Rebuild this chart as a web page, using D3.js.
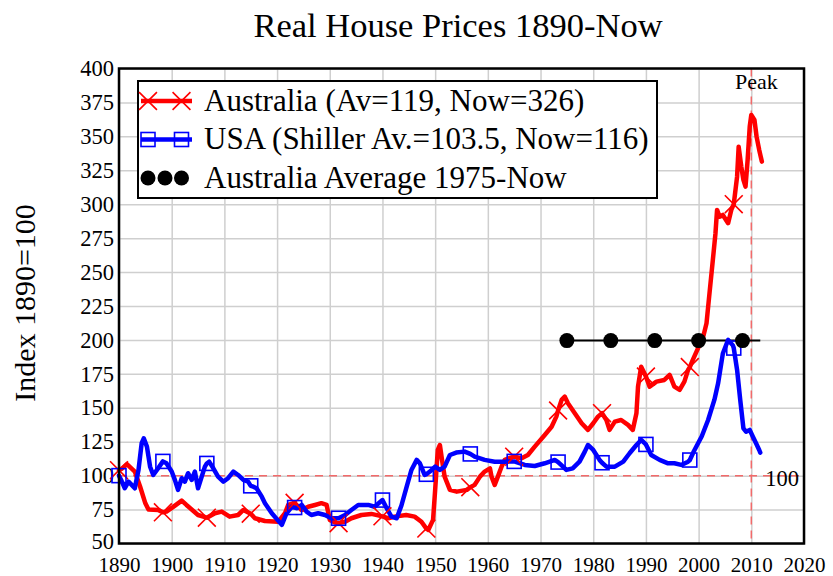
<!DOCTYPE html>
<html>
<head>
<meta charset="utf-8">
<script src="https://cdn.jsdelivr.net/npm/d3@7"></script>
<style>
  body { margin: 0; background: #fff; }
  text { font-family: "Liberation Serif", "Times New Roman", serif; }
</style>
</head>
<body>
<div id="chart"></div>
<script>
// Tick labels
const xTicks = [1890, 1900, 1910, 1920, 1930, 1940, 1950, 1960, 1970, 1980, 1990, 2000, 2010, 2020];
const yTicks = [50, 75, 100, 125, 150, 175, 200, 225, 250, 275, 300, 325, 350, 375, 400];

// Years where the series carry markers (every 100 months)
const markerYears = [1890, 1898.33, 1906.67, 1915, 1923.33, 1931.67, 1940, 1948.33, 1956.67, 1965, 1973.33, 1981.67, 1990, 1998.33, 2006.67];
const avgMarkerYears = [1975, 1983.33, 1991.67, 2000, 2008.33];

// Australia real house price index (1890=100)
const australia = [
  [1890, 104], [1890.5, 105], [1891.5, 108.5], [1893, 103], [1894, 92], [1895, 79.6], [1895.6, 75],
  [1897.5, 74.6], [1898.33, 73], [1899, 73.5], [1900.3, 77], [1901.9, 81.6], [1902.8, 78.4], [1905, 71],
  [1906.67, 69], [1908.2, 72.3], [1909.5, 73.5], [1911, 69.8], [1912.6, 71], [1913.6, 74.7], [1915, 72],
  [1915.8, 68.6], [1917.7, 66.6], [1920.2, 66], [1921.5, 72.3], [1922.1, 78.4], [1923.33, 80], [1924.6, 74.7],
  [1925.9, 77.1], [1927.2, 78.4], [1928.4, 79.7], [1929.4, 78.4], [1930, 67.4], [1931, 65.4], [1931.67, 65],
  [1932.9, 66], [1934.1, 68.6], [1936, 71], [1937.9, 71.8], [1940, 70], [1941.1, 68.6], [1942.3, 69.8],
  [1944.5, 71], [1946.1, 69.8], [1947.4, 66], [1948.33, 61], [1948.7, 60], [1949.6, 67.4], [1950, 89.5],
  [1950.5, 119], [1950.9, 122.6], [1951.3, 111.6], [1951.8, 99.3], [1952.8, 89.5], [1954.1, 88.2], [1956, 89.5],
  [1956.67, 91.5], [1957.5, 93.2], [1958.5, 99.3], [1959.4, 103], [1960.4, 105.4], [1960.7, 99.3], [1961.3, 93.2],
  [1961.9, 99.3], [1962.6, 106.6], [1963.2, 111.6], [1964.5, 113.5], [1965, 114], [1966.4, 112.8], [1967.6, 115.2],
  [1968.9, 121.4], [1970.8, 130], [1972.1, 136], [1973, 143.5], [1973.33, 148], [1974, 155.8], [1974.6, 158.2],
  [1975.2, 153.3], [1976.5, 146], [1977.8, 138.6], [1979, 133.7], [1980, 138.6], [1980.9, 143.5], [1981.67, 146],
  [1982.5, 141], [1983.1, 133.7], [1984.1, 139.8], [1985.3, 141], [1986.6, 137.4], [1987.5, 133.7], [1988.2, 146],
  [1988.5, 165.6], [1989.1, 180.3], [1990, 173], [1990.7, 165.6], [1992, 169.3], [1993.5, 170.5], [1994.5, 174.2],
  [1995.4, 165.6], [1996.4, 163.2], [1997.3, 169.3], [1998, 177.9], [1998.33, 180], [1998.9, 185.3], [1999.9, 194],
  [2000.8, 201.2], [2001.5, 212.3], [2002, 231.9], [2002.7, 258.9], [2003.2, 278.6], [2003.5, 295.8], [2004, 290.8],
  [2004.6, 292.1], [2005.6, 286], [2006.2, 295.8], [2006.67, 300], [2007.3, 320.3], [2007.6, 342.4], [2008.1, 327.7],
  [2008.5, 317.9], [2008.9, 313], [2009.3, 332.6], [2009.7, 357.2], [2010, 365.8], [2010.6, 362.1], [2011, 349.8],
  [2011.5, 340], [2012, 331.4]
];

// USA (Shiller) real house price index (1890=100)
const usa = [
  [1890, 100], [1890.5, 96], [1891.1, 90.7], [1891.8, 95.6], [1892.4, 93.2], [1893, 90.7], [1893.7, 104.2],
  [1894.3, 123.9], [1894.7, 127.5], [1895.3, 121.4], [1895.9, 106.6], [1896.5, 100.5], [1897.2, 104.2],
  [1898.33, 110.5], [1899, 109.1], [1900, 103], [1900.6, 96.9], [1901.2, 89.5], [1901.9, 98.1], [1902.5, 95.6],
  [1903.1, 101.8], [1903.8, 96.9], [1904.4, 103], [1905, 90.7], [1905.7, 99.3], [1906.3, 106.6], [1906.67, 109],
  [1907.1, 110.3], [1907.9, 105.4], [1908.8, 99.3], [1909.8, 95.6], [1910.7, 98.1], [1911.7, 103], [1912.6, 100.5],
  [1913.6, 96.9], [1914.5, 95.6], [1915, 92.5], [1915.5, 91.9], [1916.1, 90.7], [1917.1, 84.5], [1917.7, 79.7],
  [1919, 72.3], [1920.9, 63.7], [1921.8, 72.3], [1922.8, 77.1], [1923.33, 76.5], [1923.7, 76], [1924.7, 78.4],
  [1925.6, 73.5], [1926.5, 71], [1927.8, 72.3], [1929.1, 71], [1930.3, 68.6], [1931.67, 68.6], [1932.9, 71],
  [1934.1, 74.7], [1935.4, 78.4], [1937.3, 78.4], [1938.5, 77.1], [1940, 82], [1940.8, 76], [1941.7, 69.8],
  [1942.7, 68.6], [1943.6, 78], [1944.6, 91.9], [1945.5, 104.2], [1946.5, 111.6], [1947.1, 109.1], [1948, 100.5],
  [1948.33, 101], [1949, 103], [1950, 106.6], [1950.9, 104.2], [1951.8, 106.6], [1952.8, 115.2], [1954, 117],
  [1955.6, 117.7], [1956.67, 116], [1957.5, 114], [1959.4, 111.6], [1961.3, 110.3], [1963.2, 110.3], [1965, 110.5],
  [1967, 107.9], [1968.9, 107.1], [1970.8, 109.1], [1972.7, 111.6], [1973.33, 110], [1973.9, 107.9], [1974.9, 104.2],
  [1976.1, 105.4], [1977.4, 110.3], [1978.4, 117.7], [1979, 122.6], [1980, 118.9], [1981.2, 111.6], [1981.67, 109.5],
  [1982.5, 106.6], [1984.1, 106.6], [1985.7, 110.3], [1986.9, 116.5], [1988.2, 122.6], [1989.1, 126.3], [1990, 123],
  [1991, 115.2], [1992.6, 111.6], [1994.2, 109.1], [1995.4, 109.1], [1996.7, 107.9], [1998, 110.3], [1998.33, 111.5],
  [1999.1, 118], [2000.6, 129], [2001.8, 141], [2003, 156], [2003.7, 168], [2004.6, 190], [2005.6, 200],
  [2006.5, 196], [2006.67, 194], [2007.3, 178], [2007.9, 155.8], [2008.5, 134.9], [2009, 132.4], [2009.7, 133.7],
  [2010.3, 128.7], [2010.9, 123.9], [2011.5, 118.9], [2011.7, 117]
];

// Australia average 1975-Now
const avgLine = [[1975, 199.5], [1983.33, 199.5], [1991.67, 199.5], [2000, 199.5], [2008.33, 199.5], [2011.7, 199.5]];

const peakYear = 2010;
const baseValue = 100;

const legendLabels = [
  "Australia (Av=119, Now=326)",
  "USA (Shiller Av.=103.5, Now=116)",
  "Australia Average 1975-Now"
];

const W = 833, H = 576;
const margin = { top: 68.5, right: 29, bottom: 32.5, left: 119 };
const width = W - margin.left - margin.right;
const height = H - margin.top - margin.bottom;

const svg = d3.select("#chart").append("svg")
  .attr("width", W)
  .attr("height", H);

const g = svg.append("g")
  .attr("transform", `translate(${margin.left},${margin.top})`);

const x = d3.scaleLinear().domain([1890, 2020]).range([0, width]);
const y = d3.scaleLinear().domain([50, 400]).range([height, 0]);

// grid
g.append("g")
  .attr("class", "grid")
  .call(d3.axisBottom(x).tickValues(xTicks).tickSize(height).tickFormat(""))
  .call(s => s.select(".domain").remove())
  .selectAll("line").attr("stroke", "#cfcfcf").attr("stroke-width", 1.5);

g.append("g")
  .attr("class", "grid")
  .call(d3.axisLeft(y).tickValues(yTicks).tickSize(-width).tickFormat(""))
  .call(s => s.select(".domain").remove())
  .selectAll("line").attr("stroke", "#cfcfcf").attr("stroke-width", 1.5);

// axis labels
const xAxis = g.append("g")
  .attr("transform", `translate(0,${height})`)
  .call(d3.axisBottom(x).tickValues(xTicks).tickSize(0).tickPadding(13.5).tickFormat(d3.format("d")));
xAxis.select(".domain").remove();
xAxis.selectAll("text").attr("font-size", 21).attr("fill", "#000")
  .style("font-family", "'Liberation Serif', serif");

const yAxis = g.append("g")
  .call(d3.axisLeft(y).tickValues(yTicks).tickSize(0).tickPadding(5).tickFormat(d3.format("d")));
yAxis.select(".domain").remove();
yAxis.selectAll("text").attr("font-size", 22.5).attr("fill", "#000")
  .style("font-family", "'Liberation Serif', serif");
// nudge the bottom label up so it clears the 1890 label
yAxis.selectAll(".tick").filter(d => d === 50).select("text").attr("y", -2.5);

// reference dashed lines
g.append("line")
  .attr("x1", x(1890)).attr("x2", x(2020))
  .attr("y1", y(baseValue)).attr("y2", y(baseValue))
  .attr("stroke", "#f26a6a").attr("stroke-width", 1.5).attr("stroke-dasharray", "8,6");

g.append("line")
  .attr("x1", x(peakYear)).attr("x2", x(peakYear))
  .attr("y1", 0).attr("y2", height)
  .attr("stroke", "#f26a6a").attr("stroke-width", 1.5).attr("stroke-dasharray", "8,6");

const line = d3.line().x(d => x(d[0])).y(d => y(d[1]));
const isMarker = d => markerYears.includes(d[0]);

// Australia average
g.append("path")
  .datum(avgLine)
  .attr("fill", "none").attr("stroke", "#000").attr("stroke-width", 2)
  .attr("d", line);

// Australia
g.append("path")
  .datum(australia)
  .attr("fill", "none").attr("stroke", "#ff0000").attr("stroke-width", 4.5)
  .attr("stroke-linejoin", "round").attr("stroke-linecap", "round")
  .attr("d", line);

// USA
g.append("path")
  .datum(usa)
  .attr("fill", "none").attr("stroke", "#0000ff").attr("stroke-width", 4.5)
  .attr("stroke-linejoin", "round").attr("stroke-linecap", "round")
  .attr("d", line);

// markers
const cross = d3.symbol().type(d3.symbolX).size(210);

g.append("g").selectAll("path")
  .data(australia.filter(isMarker))
  .join("path")
  .attr("transform", d => `translate(${x(d[0])},${y(d[1])})`)
  .attr("d", cross)
  .attr("fill", "none").attr("stroke", "#ff0000").attr("stroke-width", 1.6);

g.append("g").selectAll("rect")
  .data(usa.filter(isMarker))
  .join("rect")
  .attr("x", d => x(d[0]) - 7).attr("y", d => y(d[1]) - 7)
  .attr("width", 14).attr("height", 14)
  .attr("fill", "none").attr("stroke", "#0000ff").attr("stroke-width", 1.6);

g.append("g").selectAll("circle")
  .data(avgLine.filter(d => avgMarkerYears.includes(d[0])))
  .join("circle")
  .attr("cx", d => x(d[0])).attr("cy", d => y(d[1]))
  .attr("r", 7.5).attr("fill", "#000");

// frame
g.append("rect")
  .attr("width", width).attr("height", height)
  .attr("fill", "none").attr("stroke", "#000").attr("stroke-width", 2.5);

// annotations
g.append("text")
  .attr("x", x(peakYear) + 5).attr("y", 20)
  .attr("text-anchor", "middle").attr("font-size", 22)
  .text("Peak");

g.append("text")
  .attr("x", x(2020) - 5).attr("y", y(baseValue) + 10)
  .attr("text-anchor", "end").attr("font-size", 22.5)
  .text("100");

// title and y label
svg.append("text")
  .attr("x", 458).attr("y", 37)
  .attr("text-anchor", "middle").attr("font-size", 34.5)
  .text("Real House Prices 1890-Now");

svg.append("text")
  .attr("transform", `translate(35,303) rotate(-90)`)
  .attr("text-anchor", "middle").attr("font-size", 30)
  .text("Index 1890=100");

// legend
const legend = svg.append("g").attr("transform", "translate(138,81)");
legend.append("rect")
  .attr("width", 519).attr("height", 117)
  .attr("fill", "#fff").attr("stroke", "#000").attr("stroke-width", 2);

const rowY = [20, 58.5, 97];
const symX = [10, 43.5];

// row 1: Australia
legend.append("line")
  .attr("x1", 3).attr("x2", 54).attr("y1", rowY[0]).attr("y2", rowY[0])
  .attr("stroke", "#ff0000").attr("stroke-width", 4.5);
legend.selectAll(".lx").data(symX).join("path")
  .attr("transform", d => `translate(${d},${rowY[0]})`)
  .attr("d", cross).attr("fill", "none").attr("stroke", "#ff0000").attr("stroke-width", 1.6);

// row 2: USA
legend.append("line")
  .attr("x1", 3).attr("x2", 54).attr("y1", rowY[1]).attr("y2", rowY[1])
  .attr("stroke", "#0000ff").attr("stroke-width", 4.5);
legend.selectAll(".ls").data(symX).join("rect")
  .attr("x", d => d - 7).attr("y", rowY[1] - 7).attr("width", 14).attr("height", 14)
  .attr("fill", "none").attr("stroke", "#0000ff").attr("stroke-width", 1.6);

// row 3: average
legend.selectAll(".lc").data([10, 27, 43.5]).join("circle")
  .attr("cx", d => d).attr("cy", rowY[2]).attr("r", 7.5).attr("fill", "#000");

legend.selectAll(".lt").data(legendLabels).join("text")
  .attr("x", 66).attr("y", (d, i) => rowY[i] + 9.5)
  .attr("font-size", 31)
  .text(d => d);
</script>
</body>
</html>
